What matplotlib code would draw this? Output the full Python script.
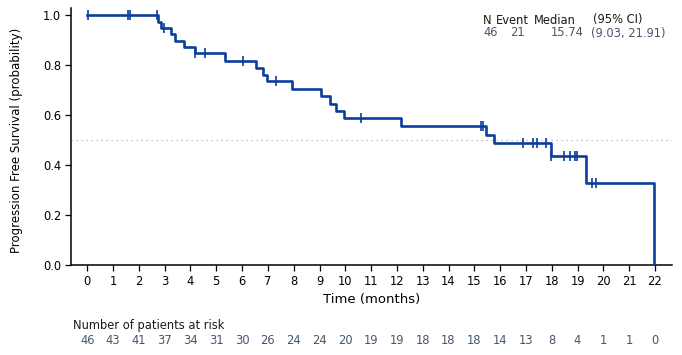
import numpy as np
import matplotlib
matplotlib.use('Agg')
import matplotlib.pyplot as plt
import matplotlib.transforms as mtransforms

# Kaplan-Meier steps
step_times = [0, 2.75, 2.85, 3.24, 3.41, 3.74, 4.16, 5.34, 6.53, 6.82, 6.95, 7.95,
              9.07, 9.42, 9.65, 9.96, 12.15, 15.44, 15.76, 17.97, 19.32, 21.98]
step_surv = [1.0, 0.974, 0.949, 0.923, 0.896, 0.871, 0.847, 0.818, 0.789, 0.762, 0.735, 0.704,
             0.676, 0.646, 0.618, 0.588, 0.556, 0.522, 0.487, 0.437, 0.328, 0.0]

# censored observations
censor_times = [0.03, 1.59, 1.67, 2.70, 2.97, 4.17, 4.57, 6.03, 7.32, 10.61,
                15.26, 15.35, 16.87, 17.26, 17.42, 17.77, 17.98, 18.47, 18.70,
                18.90, 18.99, 19.57, 19.70]

# number at risk table
risk_times = list(range(0, 23))
at_risk = [46, 43, 41, 37, 34, 31, 30, 26, 24, 24, 20, 19, 19, 18, 18, 18, 14, 13, 8, 4, 1, 1, 0]

# summary
summary_header = ['N', 'Event', 'Median', '(95% CI)']
summary_values = ['46', '21', '15.74', '(9.03, 21.91)']

line_col = '#0b3d9e'
grey_txt = '#46566b'
fs = 8.3

W, H = 682, 355
fig = plt.figure(figsize=(W / 100, H / 100), dpi=100)
ax = fig.add_axes([71 / W, 1 - 265 / H, (672 - 71) / W, (265 - 8) / H])

ax.step(step_times, step_surv, where='post', color=line_col, lw=1.9, zorder=3)

# censor marks sit on the curve
idx = np.searchsorted(step_times, censor_times, side='right') - 1
censor_surv = np.array(step_surv)[idx]
ax.plot(censor_times, censor_surv, ls='none', marker='|', ms=7, mew=1.2,
        color=line_col, zorder=4)

ax.axhline(0.5, color='#b0b0b0', lw=0.9, ls=(0, (1, 3)), zorder=1)

ax.set_xlim(-0.63, 22.66)
ax.set_ylim(0, 1.028)
ax.set_xticks(risk_times)
ax.set_yticks([0, 0.2, 0.4, 0.6, 0.8, 1.0])
ax.set_yticklabels(['%.1f' % v for v in [0, 0.2, 0.4, 0.6, 0.8, 1.0]])
ax.tick_params(direction='out', length=4, width=0.9, labelsize=fs, pad=3)
ax.spines['top'].set_visible(False)
ax.spines['right'].set_visible(False)
for s in ['left', 'bottom']:
    ax.spines[s].set_linewidth(1.1)

fig.text(17 / W, 1 - 140 / H, 'Progression Free Survival (probability)',
         rotation=90, ha='center', va='center', fontsize=8.5)
fig.text((71 + 672) / 2 / W, 1 - 300 / H, 'Time (months)',
         ha='center', va='center', fontsize=9.5)

# summary block top right
hdr_x = [487, 512, 555, 618]
val_x = [491, 517, 567, 628]
for t, x in zip(summary_header, hdr_x):
    fig.text(x / W, 1 - 20 / H, t, ha='center', va='center', fontsize=fs, color='#1a1a1a')
for t, x in zip(summary_values, val_x):
    fig.text(x / W, 1 - 33 / H, t, ha='center', va='center', fontsize=fs, color=grey_txt)

# at-risk table
fig.text(73 / W, 1 - 326 / H, 'Number of patients at risk', ha='left', va='center',
         fontsize=fs, color='#1a1a1a')
trans = mtransforms.blended_transform_factory(ax.transData, fig.transFigure)
for t, n in zip(risk_times, at_risk):
    ax.text(t, 1 - 341 / H, str(n), transform=trans, ha='center', va='center',
            fontsize=fs, color=grey_txt, clip_on=False)

fig.savefig('out.png', dpi=100)
